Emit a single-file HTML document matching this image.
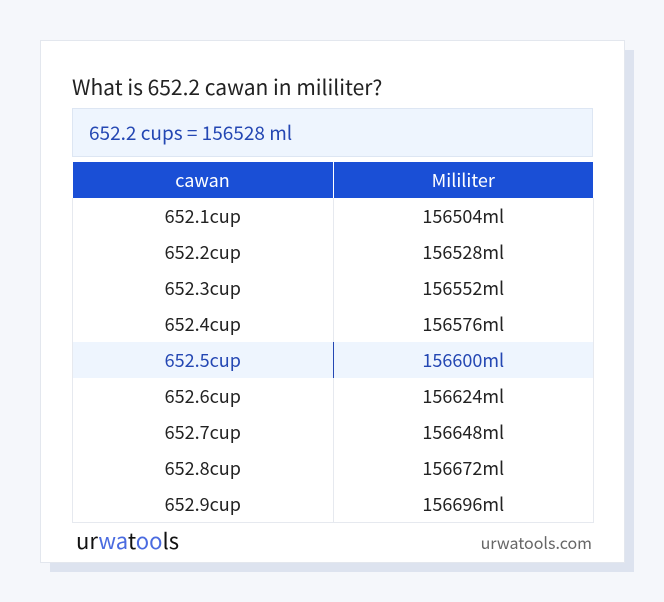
<!DOCTYPE html>
<html><head><style>
body{margin:0;width:664px;height:602px;background:#f5f7fb;font-family:"Noto Sans CJK SC","Liberation Sans",sans-serif;position:relative;overflow:hidden}
.sh{position:absolute;left:50px;top:50px;width:584px;height:522px;background:#dde3ef}
.card{position:absolute;left:40px;top:40px;width:583px;height:521px;background:#fff;border:1px solid #e3e7ee}
.t{position:absolute;left:31px;top:31px;font-size:21px;color:#222;line-height:30px}
.res{position:absolute;left:31px;top:67px;height:47px;background:#eef5fe;border:1px solid #dde6f3;font-size:19px;color:#2447b3;line-height:47px;padding-left:16px;width:503px}
table{position:absolute;left:31px;top:121px;width:522px;border-collapse:collapse;font-size:18px}
th{background:#1a4fd6;color:#fff;font-weight:normal;height:36px;padding:0;border-right:1px solid #fff;line-height:20px}
td{height:36px;padding:0;text-align:center;color:#222;border:1px solid #e6e9ef;border-top:none;border-bottom:none;line-height:20px}
tr:last-child td{border-bottom:1px solid #e6e9ef}
tr.h td{background:#eef5fe;color:#2447b3}
tr.h td:first-child{border-right:1px solid #2447b3}
.logo{position:absolute;left:35px;top:484px;font-size:22px;color:#111;line-height:30px}
.logo b{font-weight:normal;color:#4a6be0}
.url{position:absolute;right:32px;top:489px;font-size:16px;color:#666;line-height:24px}
</style></head><body>
<div class="sh"></div>
<div class="card">
<div class="t">What is 652.2 cawan in mililiter?</div>
<div class="res">652.2 cups = 156528 ml</div>
<table>
<tr><th style="width:260px">cawan</th><th>Mililiter</th></tr>
<tr><td>652.1cup</td><td>156504ml</td></tr>
<tr><td>652.2cup</td><td>156528ml</td></tr>
<tr><td>652.3cup</td><td>156552ml</td></tr>
<tr><td>652.4cup</td><td>156576ml</td></tr>
<tr class="h"><td>652.5cup</td><td>156600ml</td></tr>
<tr><td>652.6cup</td><td>156624ml</td></tr>
<tr><td>652.7cup</td><td>156648ml</td></tr>
<tr><td>652.8cup</td><td>156672ml</td></tr>
<tr><td>652.9cup</td><td>156696ml</td></tr>
</table>
<div class="logo">ur<b>wa</b>t<b>oo</b>ls</div>
<div class="url">urwatools.com</div>
</div>
</body></html>
